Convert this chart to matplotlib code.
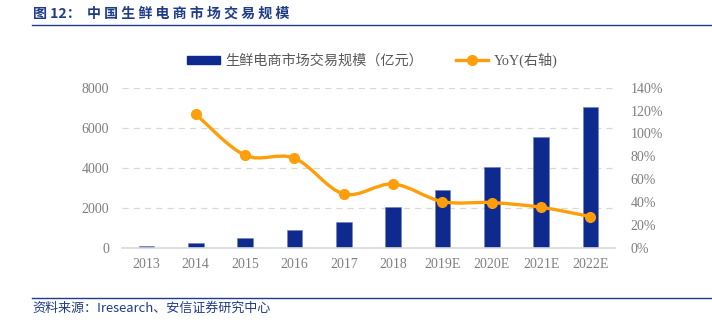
import matplotlib
matplotlib.use('Agg')
import matplotlib.pyplot as plt
import numpy as np
from matplotlib.path import Path
from matplotlib.patches import PathPatch
from matplotlib.lines import Line2D
from matplotlib.patches import Patch

plt.rcParams['font.family'] = ['Liberation Serif', 'Noto Sans CJK SC']

years = ['2013', '2014', '2015', '2016', '2017', '2018', '2019E', '2020E', '2021E', '2022E']
market_size = [115, 264, 498, 911, 1294, 2040, 2900, 4033, 5540, 7020]
yoy_years = years[1:]
yoy = [116.8, 81.0, 78.5, 47.3, 56.0, 40.6, 39.8, 35.7, 27.6]

navy = '#0E2A8E'
orange = '#FF9E0B'
tick_gray = '#7F7F7F'
title_blue = '#1F3C88'

fig = plt.figure(figsize=(7.12, 3.22), dpi=100)
ax = fig.add_axes([0.171, 0.229, 0.693, 0.499])

x = np.arange(len(years))
ax.bar(x, market_size, width=0.32, color=navy, edgecolor='#6E7FBF', linewidth=0.4, zorder=2)
ax.set_xlim(-0.5, len(years) - 0.5)
ax.set_ylim(0, 8000)
ax.set_yticks([0, 2000, 4000, 6000, 8000])
ax.set_xticks(x)
ax.set_xticklabels(years)
ax.grid(axis='y', linestyle=(0, (5, 4)), color='#D9D9D9', linewidth=0.9, zorder=0)
for s in ['top', 'right', 'left']:
    ax.spines[s].set_visible(False)
ax.spines['bottom'].set_color('#D9D9D9')
ax.spines['bottom'].set_linewidth(1.2)
ax.tick_params(axis='both', length=0, labelsize=10, colors=tick_gray)
ax.tick_params(axis='y', pad=9)
ax.tick_params(axis='x', pad=7)

ax2 = ax.twinx()
ax2.set_ylim(0, 140)
ax2.set_yticks(np.arange(0, 141, 20))
ax2.set_yticklabels([f'{v}%' for v in range(0, 141, 20)])
for s in ['top', 'right', 'left', 'bottom']:
    ax2.spines[s].set_visible(False)
ax2.tick_params(axis='y', length=0, labelsize=10, colors=tick_gray, pad=11)

# smooth curve through the YoY points (Catmull-Rom as cubic Bezier)
px = x[1:].astype(float)
py = np.array(yoy, dtype=float)
verts = [(px[0], py[0])]
codes = [Path.MOVETO]
n = len(px)
for i in range(n - 1):
    p0 = (px[max(i - 1, 0)], py[max(i - 1, 0)])
    p1 = (px[i], py[i])
    p2 = (px[i + 1], py[i + 1])
    p3 = (px[min(i + 2, n - 1)], py[min(i + 2, n - 1)])
    t = 0.5 / 3
    c1 = (p1[0] + (p2[0] - p0[0]) * t, p1[1] + (p2[1] - p0[1]) * t)
    c2 = (p2[0] - (p3[0] - p1[0]) * t, p2[1] - (p3[1] - p1[1]) * t)
    verts += [c1, c2, p2]
    codes += [Path.CURVE4] * 3
ax2.add_patch(PathPatch(Path(verts, codes), facecolor='none', edgecolor=orange,
                        linewidth=2.4, capstyle='round', zorder=3))
ax2.plot(px, py, linestyle='none', marker='o', markersize=7, color=orange, zorder=4)

handles = [Patch(facecolor=navy, edgecolor=navy),
           Line2D([0], [0], color=orange, linewidth=2.4, marker='o', markersize=7)]
fig.legend(handles, ['生鲜电商市场交易规模（亿元）', 'YoY(右轴)'],
           loc='center left', bbox_to_anchor=(0.263, 0.813), ncol=2, frameon=False,
           fontsize=10.2, labelcolor='#595959', handlelength=2.3, handleheight=0.5,
           columnspacing=2.3, handletextpad=0.4, borderpad=0, borderaxespad=0)

title = '图 12：  ' + ' '.join('中国生鲜电商市场交易规模')
fig.text(0.046, 0.958, title, fontsize=10.1, fontweight='bold',
         color=title_blue, va='center', ha='left', family=['Noto Sans CJK SC', 'DejaVu Sans'])
fig.add_artist(Line2D([0.045, 1.0], [0.922, 0.922], color=title_blue, linewidth=1.0))
fig.add_artist(Line2D([0.045, 1.0], [0.075, 0.075], color=title_blue, linewidth=1.0))
fig.text(0.046, 0.042, '资料来源：Iresearch、安信证券研究中心', fontsize=9.4, style='italic',
         color=title_blue, va='center', ha='left', family=['Noto Sans CJK SC', 'DejaVu Sans'])

fig.savefig('out.png', dpi=100)
